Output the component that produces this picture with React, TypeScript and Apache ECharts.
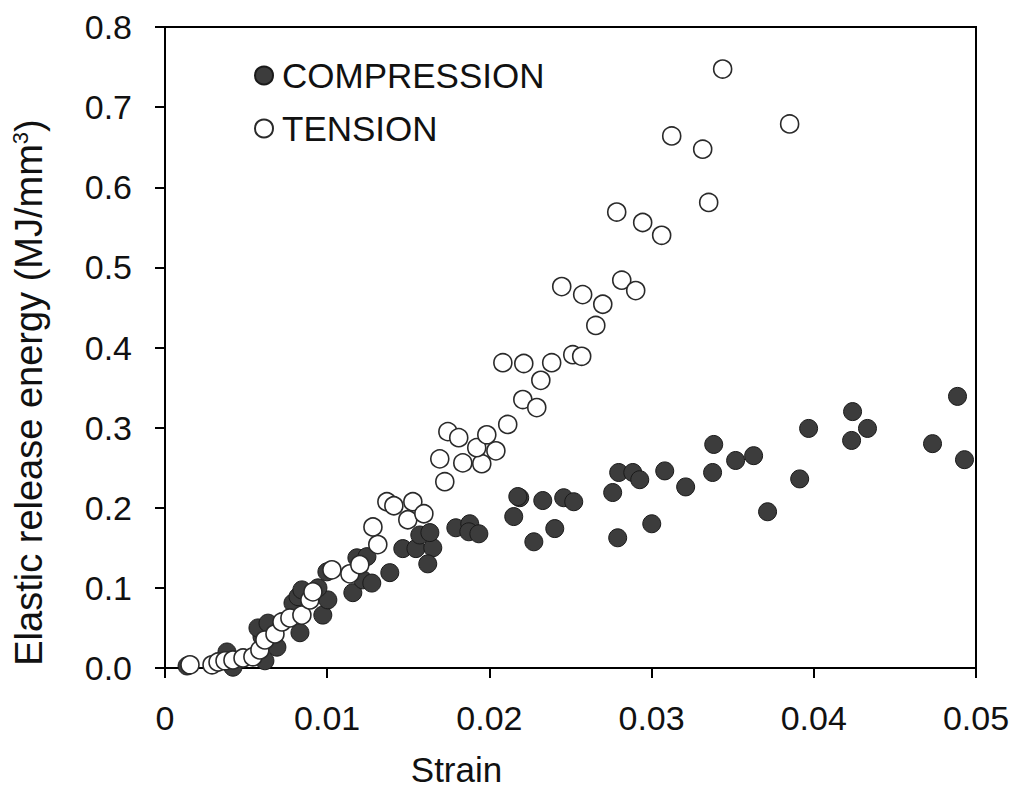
import React, { useEffect, useRef } from "react";
import * as echarts from "echarts";

const seriesNames = ["COMPRESSION", "TENSION"];

const compressionStrain = [
  0.00136, 0.00419, 0.00382, 0.00616, 0.00598, 0.00573, 0.00635, 0.0069, 0.00832, 0.00789,
  0.0082, 0.00844, 0.00973, 0.01004, 0.00943, 0.00998, 0.01158, 0.0122, 0.01275, 0.01183,
  0.01245, 0.01386, 0.01466, 0.01547, 0.01651, 0.01571, 0.01633, 0.0162, 0.01793, 0.01879,
  0.01873, 0.01935, 0.02187, 0.02175, 0.0215, 0.02329, 0.02458, 0.0252, 0.02403, 0.02274,
  0.02797, 0.02884, 0.02927, 0.0276, 0.02791, 0.03001, 0.03081, 0.0321, 0.03383, 0.03376,
  0.03518, 0.03629, 0.03715, 0.03913, 0.03968, 0.04239, 0.04331, 0.04233, 0.04732, 0.04886,
  0.04929,
];
const compressionEnergy = [
  0.0025, 0.001, 0.02, 0.009, 0.039, 0.05, 0.056, 0.026, 0.044, 0.081,
  0.089, 0.0975, 0.066, 0.085, 0.1, 0.12, 0.094, 0.11, 0.106, 0.1375,
  0.139, 0.119, 0.149, 0.149, 0.15, 0.166, 0.169, 0.13, 0.175, 0.18,
  0.17, 0.1675, 0.2125, 0.214, 0.189, 0.209, 0.2125, 0.2075, 0.174, 0.1575,
  0.244, 0.244, 0.235, 0.219, 0.1625, 0.18, 0.246, 0.226, 0.279, 0.244,
  0.259, 0.265, 0.195, 0.236, 0.299, 0.32, 0.299, 0.284, 0.28, 0.339,
  0.26,
];

const tensionStrain = [
  0.00154, 0.0029, 0.00327, 0.0037, 0.00419, 0.00481, 0.00542, 0.00585, 0.00616, 0.00678,
  0.00721, 0.0077, 0.00844, 0.00893, 0.00912, 0.01029, 0.0114, 0.01201, 0.01312, 0.01282,
  0.01368, 0.01411, 0.01528, 0.01497, 0.01596, 0.01725, 0.01694, 0.01836, 0.01953, 0.01922,
  0.0204, 0.01744, 0.01811, 0.01984, 0.02113, 0.02206, 0.02292, 0.02317, 0.02083, 0.02212,
  0.02384, 0.02514, 0.02569, 0.02656, 0.02699, 0.02446, 0.02575, 0.02816, 0.02902, 0.02785,
  0.02945, 0.03062, 0.03352, 0.03124, 0.03315, 0.03851, 0.03438,
];
const tensionEnergy = [
  0.004, 0.004, 0.0075, 0.009, 0.01, 0.0125, 0.014, 0.0225, 0.035, 0.0425,
  0.0575, 0.0625, 0.066, 0.085, 0.095, 0.1225, 0.1175, 0.129, 0.154, 0.176,
  0.2075, 0.2025, 0.2075, 0.185, 0.1925, 0.2325, 0.261, 0.256, 0.255, 0.275,
  0.271, 0.295, 0.2875, 0.291, 0.304, 0.335, 0.325, 0.359, 0.381, 0.38,
  0.381, 0.391, 0.389, 0.4275, 0.454, 0.476, 0.466, 0.484, 0.471, 0.569,
  0.556, 0.54, 0.581, 0.664, 0.6475, 0.679, 0.7475,
];

const xTicks = [0, 0.01, 0.02, 0.03, 0.04, 0.05];
const yTicks = [0, 0.1, 0.2, 0.3, 0.4, 0.5, 0.6, 0.7, 0.8];

const FONT = "'Liberation Sans', Arial, sans-serif";

export default function App() {
  const ref = useRef<HTMLDivElement>(null);
  useEffect(() => {
    document.body.style.margin = "0";
    if (!ref.current) return;
    const chart = echarts.init(ref.current, undefined, { renderer: "svg" });
    const comp = compressionStrain.map((s, i) => [s, compressionEnergy[i]]);
    const tens = tensionStrain.map((s, i) => [s, tensionEnergy[i]]);
    chart.setOption({
      animation: false,
      backgroundColor: "#ffffff",
      textStyle: { fontFamily: FONT },
      grid: {
        left: 165,
        right: 44,
        top: 27,
        bottom: 127,
        show: true,
        borderColor: "#000",
        borderWidth: 2,
        backgroundColor: "transparent",
      },
      legend: {
        orient: "vertical",
        left: 249,
        top: 53,
        itemWidth: 18,
        itemHeight: 18,
        itemGap: 18,
        icon: "circle",
        data: seriesNames,
        textStyle: {
          fontFamily: FONT,
          fontSize: 35,
          color: "#111",
          lineHeight: 35,
          padding: [0, 0, 0, 4],
        },
      },
      xAxis: {
        type: "value",
        min: xTicks[0],
        max: xTicks[xTicks.length - 1],
        interval: 0.01,
        name: "Strain",
        nameLocation: "middle",
        nameGap: 84,
        nameTextStyle: {
          fontFamily: FONT,
          fontSize: 35,
          color: "#111",
          padding: [0, 228, 0, 0],
        },
        axisLine: { lineStyle: { color: "#000", width: 2 } },
        axisTick: { show: true, inside: false, length: 10, lineStyle: { color: "#000", width: 2 } },
        axisLabel: {
          fontFamily: FONT,
          fontSize: 34,
          color: "#111",
          margin: 33,
          formatter: (v: number) => (v === 0 ? "0" : v.toFixed(2)),
        },
        splitLine: { show: false },
      },
      yAxis: {
        type: "value",
        min: yTicks[0],
        max: yTicks[yTicks.length - 1],
        interval: 0.1,
        name: "Elastic release energy (MJ/mm{sup|3})",
        nameLocation: "middle",
        nameRotate: 90,
        nameGap: 116,
        nameTextStyle: {
          fontFamily: FONT,
          fontSize: 38,
          color: "#111",
          padding: [0, 90, 0, 0],
          rich: {
            sup: { fontFamily: FONT, fontSize: 22, color: "#111", padding: [0, 0, 18, 0] },
          },
        },
        axisLine: { lineStyle: { color: "#000", width: 2 } },
        axisTick: { show: true, inside: false, length: 10, lineStyle: { color: "#000", width: 2 } },
        axisLabel: {
          fontFamily: FONT,
          fontSize: 34,
          color: "#111",
          margin: 33,
          formatter: (v: number) => v.toFixed(1),
        },
        splitLine: { show: false },
      },
      series: [
        {
          name: seriesNames[0],
          type: "scatter",
          symbol: "circle",
          symbolSize: 18,
          data: comp,
          itemStyle: { color: "#3c3c3c", borderColor: "#1a1a1a", borderWidth: 1, opacity: 1 },
          emphasis: { disabled: true },
        },
        {
          name: seriesNames[1],
          type: "scatter",
          symbol: "circle",
          symbolSize: 18,
          data: tens,
          itemStyle: { color: "#ffffff", borderColor: "#2a2a2a", borderWidth: 1.6, opacity: 1 },
          emphasis: { disabled: true },
        },
      ],
    });
    return () => chart.dispose();
  }, []);
  return <div ref={ref} style={{ width: 1020, height: 795 }} />;
}
